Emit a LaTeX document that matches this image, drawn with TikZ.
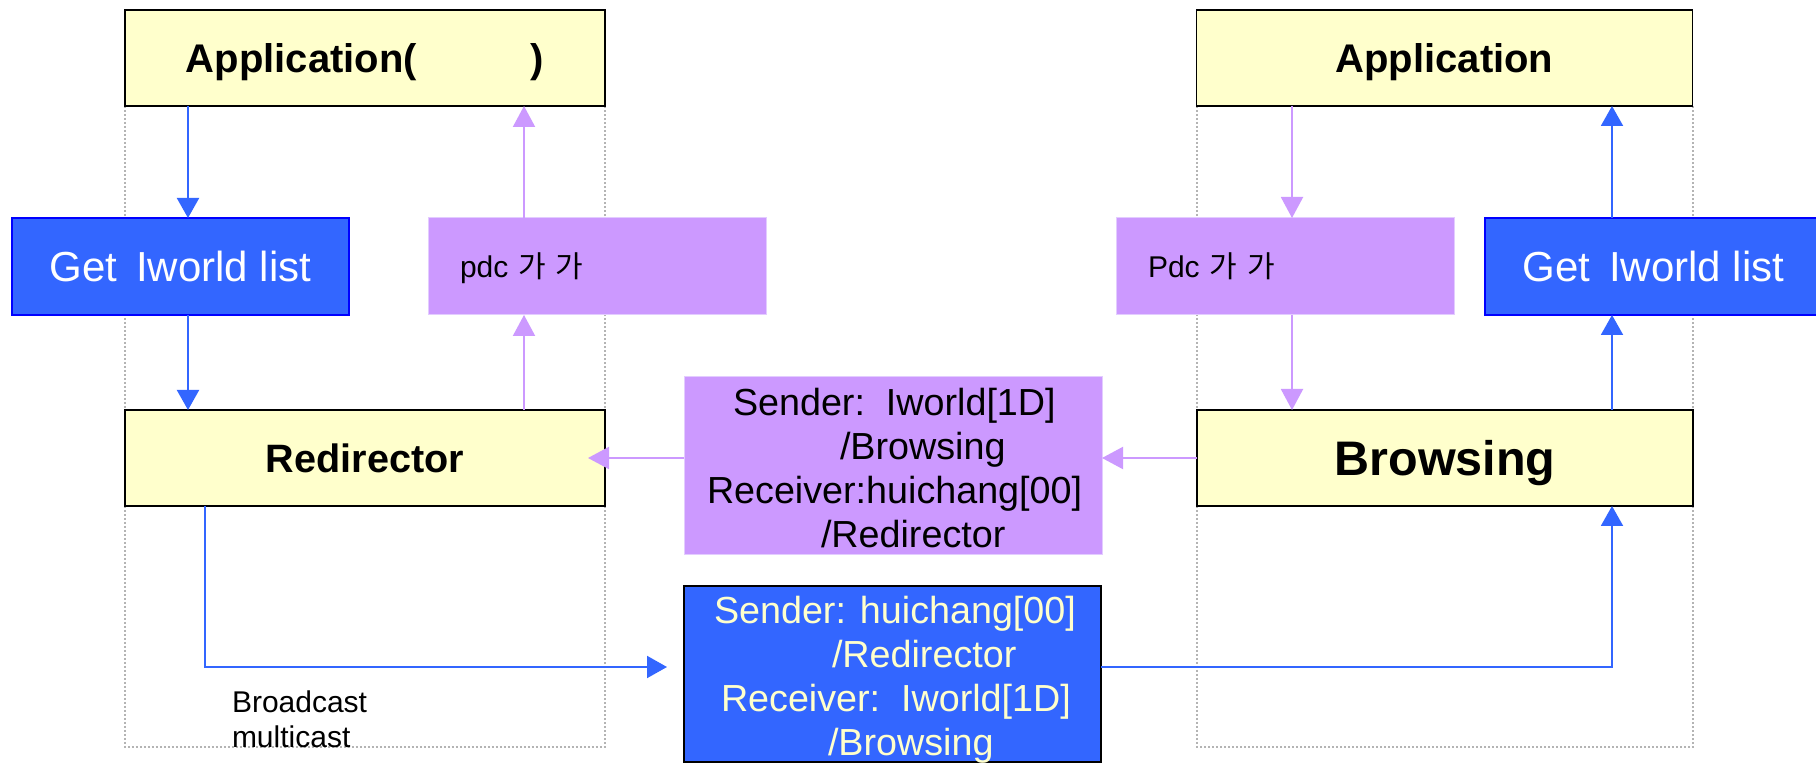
\documentclass[tikz,border=0pt]{standalone}
\usepackage{fontspec}
\setmainfont{Liberation Sans}
\newfontfamily\krfont{Noto Sans CJK KR}
\usetikzlibrary{arrows.meta}
\definecolor{paleyellow}{HTML}{FFFFCC}
\definecolor{boxblue}{HTML}{3366FF}
\definecolor{edgeblue}{HTML}{0000FF}
\definecolor{lilac}{HTML}{CC99FF}
\definecolor{lilacedge}{HTML}{E3CCFF}
\definecolor{framegrey}{HTML}{B4B4B4}
\definecolor{creamtext}{HTML}{FFFFCC}

\begin{document}
\begin{tikzpicture}[x=0.5pt,y=-0.5pt,
  every node/.style={inner sep=0pt, outer sep=0pt},
  frame/.style={draw=framegrey, line width=0.6pt, dash pattern=on 0.8pt off 1.2pt},
  yellowbox/.style={draw=black, line width=0.9pt, fill=paleyellow, minimum height=48pt},
  getbox/.style={draw=edgeblue, line width=0.9pt, fill=boxblue, minimum width=168.5pt,
    minimum height=48.5pt, text=white, font=\fontsize{21}{25}\selectfont,
    text height=15.4pt, text depth=0pt},
  pdcbox/.style={draw=lilacedge, line width=0.5pt, fill=lilac, minimum height=48.5pt,
    text width=137pt, inner xsep=16pt, align=left, font=\fontsize{15}{18}\selectfont,
    text height=11pt, text depth=0pt},
  lilacmsg/.style={draw=lilacedge, line width=0.5pt, fill=lilac, minimum width=209pt, minimum height=89pt},
  bluemsg/.style={draw=black, line width=0.9pt, fill=boxblue, minimum width=208.5pt, minimum height=88pt},
  msgtext/.style={anchor=north west, align=left, font=\fontsize{18.85}{22}\selectfont},
  blueline/.style={draw=boxblue, line width=1pt},
  bluearrow/.style={blueline, -{Triangle[length=10pt,width=11pt]}},
  lilacarrow/.style={draw=lilac, line width=1pt, -{Triangle[length=10.5pt,width=11pt]}}
]
\useasboundingbox (0,0) rectangle (1816,764);
\fill[white] (0,0) rectangle (1816,764);

% dotted frames of the two hosts
\draw[frame] (125,106) rectangle (605,747);
\draw[frame] (1197,106) rectangle (1693,747);

% left host
\node[yellowbox, minimum width=240pt, font=\bfseries\fontsize{20}{24}\selectfont,
      text height=14.3pt, text depth=0pt] (appL) at (365,58) {Application(\hspace{57pt})};
\node[getbox] (getL) at (180.5,266.5) {Get\hspace{0.45em}Iworld list};
\node[pdcbox] (pdcL) at (597,266.5) {pdc {\krfont 가 가}};
\node[yellowbox, minimum width=240pt, font=\bfseries\fontsize{19.8}{24}\selectfont,
      text height=14.2pt, text depth=0pt] (redir) at (365,458) {Redirector};

% right host
\node[yellowbox, minimum width=248pt, font=\bfseries\fontsize{20}{24}\selectfont,
      text height=14.3pt, text depth=0pt] (appR) at (1444.5,58) {Application};
\node[pdcbox] (pdcR) at (1285,266.5) {Pdc {\krfont 가 가}};
\node[getbox] (getR) at (1653.5,266.5) {Get\hspace{0.45em}Iworld list};
\node[yellowbox, minimum width=248pt, font=\bfseries\fontsize{24.25}{28}\selectfont,
      text height=17.4pt, text depth=0pt] (browse) at (1445,458) {Browsing};

% messages between the hosts
\node[lilacmsg] (m1) at (893,466) {};
\node[msgtext] (m1txt) at (707,388) {\hspace*{13pt}Sender:\ \ Iworld[1D]\\
  \hspace*{66.5pt}/Browsing\\
  Receiver:huichang[00]\\
  \hspace*{57pt}/Redirector};
\node[bluemsg] (m2) at (892.5,674) {};
\node[msgtext, text=creamtext] (m2txt) at (714,596) {Sender: huichang[00]\\
  \hspace*{59pt}/Redirector\\
  \hspace*{3.5pt}Receiver:\ \ Iworld[1D]\\
  \hspace*{57pt}/Browsing};

\node[anchor=north west, align=left, font=\fontsize{15}{17.5}\selectfont] (bcast) at (232,691)
  {Broadcast\\multicast};

% connector columns
\coordinate (xbl) at (188,0);
\coordinate (xpl) at (524,0);
\coordinate (xpr) at (1292,0);
\coordinate (xbr) at (1612,0);
\coordinate (xdown) at (205,0);
\coordinate (ylow) at (0,667);

\draw[bluearrow] (appL.south -| xbl) -- (getL.north -| xbl);
\draw[bluearrow] (getL.south -| xbl) -- (redir.north -| xbl);
\draw[lilacarrow] (redir.north -| xpl) -- (pdcL.south -| xpl);
\draw[lilacarrow] (pdcL.north -| xpl) -- (appL.south -| xpl);

\draw[lilacarrow] (appR.south -| xpr) -- (pdcR.north -| xpr);
\draw[lilacarrow] (pdcR.south -| xpr) -- (browse.north -| xpr);
\draw[bluearrow] (browse.north -| xbr) -- (getR.south -| xbr);
\draw[bluearrow] (getR.north -| xbr) -- (appR.south -| xbr);

\draw[lilacarrow] (browse.west) -- (browse.west -| m1.east);
\draw[lilacarrow, shorten >=-8.5pt] (redir.east -| m1.west) -- (redir.east);
\draw[bluearrow, shorten >=8.5pt] (redir.south -| xdown) |- (m2.west |- ylow);
\draw[bluearrow] (m2.east |- ylow) -| (browse.south -| xbr);
\end{tikzpicture}
\end{document}
